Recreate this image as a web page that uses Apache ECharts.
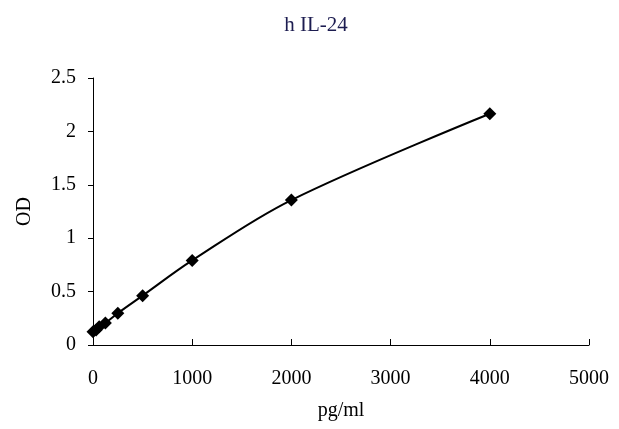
<!DOCTYPE html>
<html>
<head>
<meta charset="utf-8">
<script src="https://cdn.jsdelivr.net/npm/echarts@6/dist/echarts.min.js"></script>
<style>
  html, body { margin: 0; padding: 0; background: #fff; }
  #chart { width: 619px; height: 429px; }
</style>
</head>
<body>
<div id="chart"></div>
<script>
// standard curve, concentration vs OD
const conc = [0, 31.25, 62.5, 125, 250, 500, 1000, 2000, 4000];
const od = [0.125, 0.14, 0.17, 0.205, 0.297, 0.462, 0.792, 1.357, 2.165];
const xTicks = [0, 1000, 2000, 3000, 4000, 5000];
const yTicks = [0, 0.5, 1, 1.5, 2, 2.5];

const font = "'Liberation Serif', 'DejaVu Serif', serif";

var myChart = echarts.init(document.getElementById("chart"));
myChart.setOption({
  animation: false,
  title: {
    text: "h IL-24",
    left: 311,
    top: 10,
    textAlign: "center",
    textStyle: { fontFamily: font, fontSize: 21, fontWeight: "normal", color: "#1c1c50" },
  },
  grid: { left: 93, right: 30, top: 78, bottom: 84 },
  xAxis: {
    type: "value",
    min: xTicks[0],
    max: xTicks[xTicks.length - 1],
    interval: 1000,
    name: "pg/ml",
    nameLocation: "middle",
    nameGap: 56,
    nameTextStyle: { fontFamily: font, fontSize: 20, color: "#000" },
    axisLine: { lineStyle: { color: "#000", width: 1 } },
    axisTick: { inside: true, length: 6, lineStyle: { color: "#000" } },
    axisLabel: { fontFamily: font, fontSize: 20, color: "#000", margin: 24, formatter: (v) => String(v) },
    splitLine: { show: false },
  },
  yAxis: {
    type: "value",
    min: yTicks[0],
    max: yTicks[yTicks.length - 1],
    interval: 0.5,
    name: "OD",
    nameLocation: "middle",
    nameGap: 58,
    nameTextStyle: { fontFamily: font, fontSize: 20, color: "#000" },
    axisLine: { show: true, lineStyle: { color: "#000", width: 1 } },
    axisTick: { show: true, inside: false, length: 5, lineStyle: { color: "#000" } },
    axisLabel: { fontFamily: font, fontSize: 20, color: "#000", margin: 17, formatter: (v) => String(v) },
    splitLine: { show: false },
  },
  series: [
    {
      type: "line",
      data: conc.map((c, i) => [c, od[i]]),
      smooth: 0.35,
      symbol: "diamond",
      symbolSize: 13,
      itemStyle: { color: "#000" },
      lineStyle: { color: "#000", width: 2 },
    },
  ],
});
</script>
</body>
</html>
